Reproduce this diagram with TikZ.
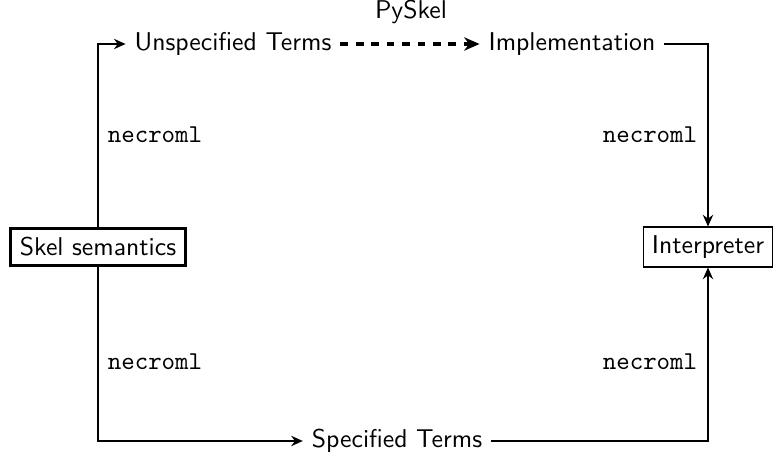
\documentclass[tikz,border=0pt]{standalone}
\usetikzlibrary{arrows.meta}
\begin{document}
\begin{tikzpicture}[x=0.389pt,y=-0.389pt,
  font=\sffamily,
  conn/.style={line width=0.7pt,-{Stealth[length=4.5pt,width=4pt]}},
  dconn/.style={line width=1.5pt,dashed,-{Stealth[length=6pt,width=5.2pt]}},
  lbl/.style={font=\ttfamily},
  skelbox/.style={draw,line width=1.2pt,inner sep=3.5pt},
  interpbox/.style={draw,line width=0.5pt,inner sep=3.3pt}]
\useasboundingbox (0,0) rectangle (774,462);
\node[skelbox] (skel) at (98,247) {Skel semantics};
\node[interpbox] (interp) at (708,247) {Interpreter};
\node (unspec) at (233,44) {Unspecified Terms};
\node (impl) at (572,44) {Implementation};
\node (spec) at (397,441) {Specified Terms};
\node (py) at (411,12) {PySkel};
\node[lbl] (l1) at (155,135) {necroml};
\node[lbl] (l2) at (650,135) {necroml};
\node[lbl] (l3) at (155,362) {necroml};
\node[lbl] (l4) at (650,362) {necroml};
\draw[conn] (skel.north) |- (unspec.west);
\draw[dconn] (unspec.east) -- (impl.west);
\draw[conn] (impl.east) -| (interp.north);
\draw[conn] (skel.south) |- (spec.west);
\draw[conn] (spec.east) -| (interp.south);
\end{tikzpicture}
\end{document}
